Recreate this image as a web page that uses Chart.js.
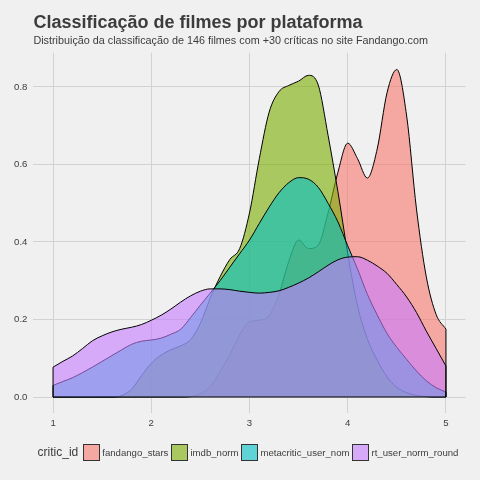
<!DOCTYPE html>
<html>
<head>
<meta charset="utf-8">
<script src="https://cdn.jsdelivr.net/npm/chart.js@4"></script>
<style>
  body { margin: 0; background: #F0F0F0; }
  #wrap { position: relative; width: 480px; height: 480px; }
  #legend {
    position: absolute; left: 33px; width: 433px; top: 443px; height: 18px;
    display: flex; justify-content: center; align-items: center;
    font-family: 'Liberation Sans', Arial, sans-serif; color: #3C3C3C;
  }
  #legend .ttl { font-size: 12px; margin-right: 5px; }
  #legend .key { width: 15px; height: 15px; border: 1px solid #333; }
  #legend .lbl { font-size: 9.6px; margin: 0 3px 0 2px; }
</style>
</head>
<body>
<div id="wrap">
  <canvas id="chart" width="480" height="480"></canvas>
  <div id="legend"></div>
</div>
<script>
// density estimates, x from 1 to 5
const densityX = [1.0, 1.1, 1.2, 1.3, 1.4, 1.5, 1.6, 1.7, 1.8, 1.9,
  2.0, 2.1, 2.2, 2.3, 2.4, 2.5, 2.6, 2.7, 2.8, 2.9,
  3.0, 3.1, 3.2, 3.3, 3.4, 3.5, 3.6, 3.7, 3.8, 3.9,
  4.0, 4.1, 4.2, 4.3, 4.4, 4.5, 4.6, 4.7, 4.8, 4.9, 5.0];

const fandangoStars = [0, 0, 0, 0, 0, 0, 0, 0, 0, 0,
  0, 0, 0, 0, 0.001, 0.008, 0.027, 0.065, 0.11, 0.16,
  0.194, 0.198, 0.21, 0.265, 0.35, 0.405, 0.383, 0.392, 0.475, 0.58,
  0.655, 0.615, 0.565, 0.64, 0.785, 0.845, 0.725, 0.485, 0.31, 0.213, 0.175];

const imdbNorm = [0, 0, 0, 0, 0, 0, 0, 0.004, 0.02, 0.055,
  0.087, 0.108, 0.122, 0.132, 0.148, 0.19, 0.255, 0.31, 0.355, 0.383,
  0.475, 0.615, 0.735, 0.788, 0.804, 0.815, 0.83, 0.805, 0.675, 0.53,
  0.37, 0.235, 0.15, 0.095, 0.052, 0.025, 0.011, 0.004, 0.001, 0, 0];

const metacriticUserNom = [0.030, 0.040, 0.050, 0.063, 0.077, 0.092, 0.107, 0.122, 0.136, 0.144,
  0.147, 0.152, 0.162, 0.175, 0.205, 0.237, 0.268, 0.30, 0.335, 0.37,
  0.405, 0.448, 0.49, 0.527, 0.553, 0.566, 0.562, 0.541, 0.50, 0.452,
  0.39, 0.33, 0.265, 0.212, 0.164, 0.128, 0.097, 0.067, 0.042, 0.024, 0.013];

const rtUserNormRound = [0.077, 0.092, 0.106, 0.125, 0.145, 0.158, 0.168, 0.175, 0.18, 0.187,
  0.198, 0.211, 0.227, 0.245, 0.261, 0.273, 0.279, 0.279, 0.277, 0.273,
  0.27, 0.268, 0.27, 0.274, 0.283, 0.294, 0.307, 0.323, 0.34, 0.354,
  0.361, 0.362, 0.353, 0.338, 0.319, 0.29, 0.258, 0.218, 0.17, 0.125, 0.08];

const seriesNames = ['fandango_stars', 'imdb_norm', 'metacritic_user_nom', 'rt_user_norm_round'];
const seriesValues = [fandangoStars, imdbNorm, metacriticUserNom, rtUserNormRound];
const seriesColors = ['248,118,109', '124,174,0', '0,191,196', '199,124,255'];

const xTicks = [1, 2, 3, 4, 5];
const xTickLabels = ['1', '2', '3', '4', '5'];
const yTicks = [0, 0.2, 0.4, 0.6, 0.8];
const yTickLabels = ['0.0', '0.2', '0.4', '0.6', '0.8'];

const FONT = "'Liberation Sans', Arial, sans-serif";
const TXT = '#3C3C3C';
const GRID = '#D2D2D2';

const datasets = seriesValues.map((vals, i) => ({
  label: seriesNames[i],
  data: vals.map((v, j) => ({ x: densityX[j], y: v })),
  backgroundColor: 'rgba(' + seriesColors[i] + ',0.6)',
  borderColor: '#000',
  borderWidth: 1,
  fill: 'origin',
  pointRadius: 0,
  cubicInterpolationMode: 'monotone',
  order: seriesValues.length - i
}));

// closing edges of each density polygon (left/right sides and base)
const first = densityX[0], last = densityX[densityX.length - 1];
const edges = [];
seriesValues.forEach(vals => {
  edges.push({ x: first, y: 0 }, { x: first, y: vals[0] }, { x: first, y: null });
  edges.push({ x: last, y: 0 }, { x: last, y: vals[vals.length - 1] }, { x: last, y: null });
});
edges.push({ x: first, y: 0 }, { x: last, y: 0 });
datasets.push({
  label: 'edges', data: edges, borderColor: '#000', borderWidth: 1,
  pointRadius: 0, fill: false, tension: 0, spanGaps: false, order: 0
});

new Chart(document.getElementById('chart'), {
  type: 'line',
  data: { datasets },
  options: {
    responsive: false,
    animation: false,
    layout: { padding: { left: 0, right: 14.4, top: 0, bottom: 46.6 } },
    plugins: {
      legend: { display: false },
      tooltip: { enabled: false },
      title: {
        display: true, fullSize: false, align: 'start',
        text: 'Classificação de filmes por plataforma',
        color: TXT, font: { family: FONT, size: 18, weight: 'bold' },
        padding: { top: 12, bottom: 1.4 }
      },
      subtitle: {
        display: true, fullSize: false, align: 'start',
        text: 'Distribuição da classificação de 146 filmes com +30 críticas no site Fandango.com',
        color: TXT, font: { family: FONT, size: 10.8 },
        padding: { top: 0, bottom: 4.7 }
      }
    },
    scales: {
      x: {
        type: 'linear', min: 0.8, max: 5.2,
        afterBuildTicks: s => { s.ticks = xTicks.map(v => ({ value: v })); },
        afterFit: s => { s.height = 20; },
        ticks: { callback: (v, i) => xTickLabels[i], color: TXT, font: { family: FONT, size: 9.6 }, padding: 4, maxRotation: 0 },
        grid: { color: GRID, lineWidth: 1, drawTicks: false },
        border: { display: false }
      },
      y: {
        type: 'linear', min: -0.0423, max: 0.8885,
        afterBuildTicks: s => { s.ticks = yTicks.map(v => ({ value: v })); },
        afterFit: s => { s.width = 33.4; },
        ticks: { callback: (v, i) => yTickLabels[i], color: TXT, font: { family: FONT, size: 9.6 }, padding: 6 },
        grid: { color: GRID, lineWidth: 1, drawTicks: false },
        border: { display: false }
      }
    }
  }
});

// legend row: title on the left, then keys
const legend = document.getElementById('legend');
const ttl = document.createElement('span');
ttl.className = 'ttl';
ttl.textContent = 'critic_id';
legend.appendChild(ttl);
seriesNames.forEach((name, i) => {
  const key = document.createElement('span');
  key.className = 'key';
  key.style.background = 'rgba(' + seriesColors[i] + ',0.6)';
  const lbl = document.createElement('span');
  lbl.className = 'lbl';
  lbl.textContent = name;
  legend.appendChild(key);
  legend.appendChild(lbl);
});
</script>
</body>
</html>
